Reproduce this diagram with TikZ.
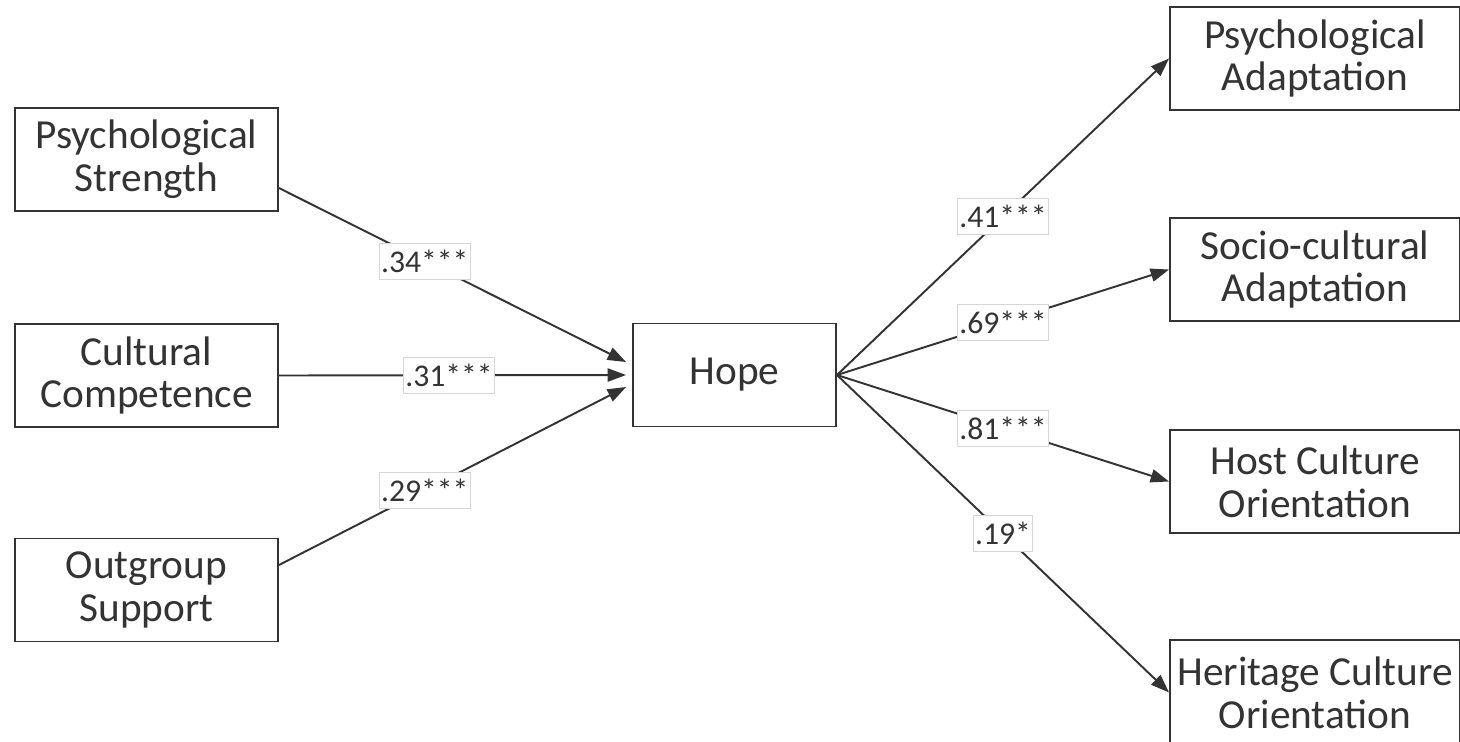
\documentclass[tikz,border=0pt]{standalone}
\usepackage{fontspec}
\setmainfont{Carlito}
\usetikzlibrary{arrows.meta,calc}
\definecolor{linegray}{HTML}{333333}
\definecolor{labelgray}{HTML}{D6D6D6}
\tikzset{
%Define standard arrow tip
>={Triangle[length=10.5pt,width=7.5pt]},
%Define styles for the boxes, the paths and the coefficients
factor/.style={draw=linegray, line width=1.1pt, fill=white, text=linegray, align=center, minimum width=5.26cm, minimum height=2.06cm, font=\fontsize{23.5}{24.4}\selectfont},
effect/.style={->, draw=linegray, line width=1.1pt},
coef/.style={draw=labelgray, fill=white, line width=0.6pt, text=linegray, inner xsep=1pt, minimum height=0.72cm, font=\fontsize{18}{20}\selectfont},
}
\begin{document}
\begin{tikzpicture}[x=0.02cm, y=-0.02cm]
    \useasboundingbox (0,0) rectangle (1460,741);
    \clip (0,0) rectangle (1460,741);
    % Predictors
    \node[factor] (ps) at (146.5,159.5) {Psychological\\Strength};
    \node[factor] (cc) at (146.5,375.5) {Cultural\\Competence};
    \node[factor] (os) at (146.5,590) {Outgroup\\Support};
    % Mediator
    \node[factor, minimum width=4.06cm] (hope) at (734.5,375) {Hope};
    % Outcomes
    \node[factor, minimum width=5.8cm] (pa) at (1315,58.5) {Psychological\\Adaptation};
    \node[factor, minimum width=5.8cm] (sa) at (1315,269.5) {Socio-cultural\\Adaptation};
    \node[factor, minimum width=5.8cm] (hc) at (1315,481.5) {Host Culture\\Orientation};
    \node[factor, minimum width=5.8cm, minimum height=2.1cm] (he) at (1315,692.5) {Heritage Culture\\Orientation};
    % Paths into hope
    \draw[effect] ($(ps.east)+(0,28.5)$) -- node[coef, pos=.42] (c1) {.34***} ($(hope.west)+(-6,-13)$);
    \draw[effect] (cc.east) -- node[coef, pos=.49] (c2) {.31***} ($(hope.west)+(-6,0)$);
    \draw[effect] ($(os.east)+(0,-25)$) -- node[coef, pos=.42] (c3) {.29***} ($(hope.west)+(-6,12)$);
    % Paths out of hope
    \draw[effect] (hope.east) -- node[coef] (c4) {.41***} (pa.west);
    \draw[effect] (hope.east) -- node[coef] (c5) {.69***} (sa.west);
    \draw[effect] (hope.east) -- node[coef] (c6) {.81***} (hc.west);
    \draw[effect] (hope.east) -- node[coef] (c7) {.19*} (he.west);
\end{tikzpicture}
\end{document}
